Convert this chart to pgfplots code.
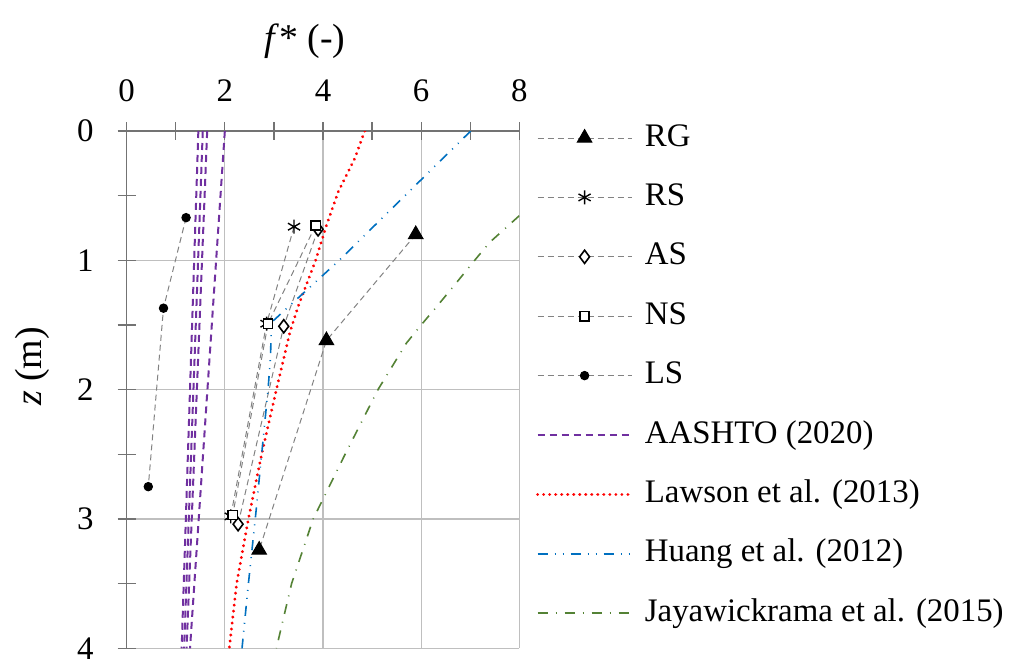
\documentclass[border=0pt]{standalone}
\usepackage{pgfplots}
\pgfplotsset{compat=1.18}
\usepackage{fontspec}
\setmainfont{Liberation Serif}
\definecolor{cpurple}{RGB}{112,48,160}
\definecolor{cblue}{RGB}{0,112,192}
\definecolor{cgreen}{RGB}{84,130,53}
\definecolor{cgray}{RGB}{130,130,130}
\begin{document}
\begin{tikzpicture}
\begin{axis}[
  name=ax,
  at={(0,0)}, anchor=north west,
  scale only axis,
  width=196.3bp, height=258.65bp,
  xmin=0, xmax=8, ymin=0, ymax=4,
  y dir=reverse,
  axis x line*=top, axis y line*=left,
  axis line style={-, draw=black!55, line width=0.6bp},
  xtick={0,2,4,6,8}, minor xtick={1,3,5,7},
  ytick={0,1,2,3,4}, minor ytick={0.5,1.5,2.5,3.5},
  tick align=center,
  major tick length=9bp, minor tick length=9bp,
  every tick/.style={draw=black!55, line width=0.6bp},
  xmajorgrids, ymajorgrids,
  major grid style={draw=black!25, line width=0.6bp},
  tick label style={font=\fontsize{16.5}{18}\selectfont},
  xticklabel style={yshift=6.5bp},
  yticklabel style={xshift=-8.5bp},
  /pgf/number format/assume math mode=true,
  legend cell align=left,
  legend style={
    at={(1,1)}, anchor=north west, xshift=8.35bp, yshift=4bp,
    draw=none, fill=none, inner sep=0pt, outer sep=0pt,
    row sep=14.7bp, column sep=5.85bp,
    font=\fontsize{16.5}{18}\selectfont,
    nodes={inner sep=0pt, text height=11.5bp, text depth=3.5bp},
  },
  legend image code/.code={\draw[mark repeat=2,mark phase=2] plot coordinates {(0bp,0bp) (23.5bp,0bp) (47bp,0bp)};},
  meas/.style={cgray, line width=0.5bp, dash pattern=on 3bp off 2bp},
]
% measured series
\addplot[meas, mark=triangle*, mark size=4.2bp, mark options={solid, fill=black, draw=black}]
  coordinates {(5.89,0.80) (4.07,1.62) (2.70,3.24)};
\addlegendentry{RG}
\addplot[meas, mark=asterisk, mark size=3.5bp, mark options={solid, draw=black, line width=0.7bp}]
  coordinates {(3.41,0.74) (2.85,1.49) (2.12,2.98)};
\addlegendentry{RS}
\addplot[meas, mark=diamond*, mark size=3.3bp, mark options={solid, fill=white, draw=black, line width=0.8bp}]
  coordinates {(3.90,0.76) (3.20,1.51) (2.27,3.04)};
\addlegendentry{AS}
\addplot[meas, mark=square*, mark size=2.3bp, mark options={solid, fill=white, draw=black, line width=0.7bp}]
  coordinates {(3.85,0.73) (2.88,1.49) (2.16,2.97)};
\addlegendentry{NS}
\addplot[meas, mark=*, mark size=2.1bp, mark options={solid, fill=black, draw=black}]
  coordinates {(1.21,0.67) (0.75,1.37) (0.44,2.75)};
\addlegendentry{LS}
% AASHTO (2020)
\addplot[cpurple, line width=1bp, dash pattern=on 3.5bp off 2.5bp, no marks]
  coordinates {(1.46,0) (1.12,4)};
\addlegendentry{AASHTO (2020)}
\addplot[cpurple, line width=1bp, dash pattern=on 3.5bp off 2.5bp, no marks, forget plot]
  coordinates {(1.55,0) (1.17,4)};
\addplot[cpurple, line width=1bp, dash pattern=on 3.5bp off 2.5bp, no marks, forget plot]
  coordinates {(1.64,0) (1.22,4)};
\addplot[cpurple, line width=1bp, dash pattern=on 3.5bp off 2.5bp, no marks, forget plot]
  coordinates {(2.00,0) (1.29,4)};
% Lawson et al. (2013)
\addplot[red, line width=1.6bp, line cap=round, dash pattern=on 0.01bp off 3bp, no marks]
  coordinates {(4.85,0) (4.65,0.21) (4.31,0.47) (4.07,0.73) (3.85,1.0) (3.50,1.35) (3.33,1.55) (3.05,2.0) (2.75,2.5) (2.48,3.0) (2.24,3.5) (2.09,4.0)};
\addlegendentry{Lawson et al. (2013)}
% Huang et al. (2012)
\addplot[cblue, line width=0.8bp, dash pattern=on 5bp off 3.5bp on 0.5bp off 3.5bp on 0.5bp off 3.5bp, no marks]
  coordinates {(7.01,0) (4.33,1.0) (2.95,1.48) (2.93,1.75) (2.88,2.0) (2.75,2.5) (2.62,3.0) (2.48,3.5) (2.35,4.0)};
\addlegendentry{Huang et al. (2012)}
% Jayawickrama et al. (2015)
\addplot[cgreen, line width=0.8bp, dash pattern=on 5bp off 4bp on 0.5bp off 4bp, no marks]
  coordinates {(8.0,0.655) (7.40,0.86) (7.09,1.0) (6.79,1.14) (6.40,1.32) (6.0,1.5) (5.70,1.64) (5.12,2.0) (4.45,2.5) (3.80,3.0) (3.36,3.5) (3.05,4.0)};
\addlegendentry{Jayawickrama et al. (2015)}
\end{axis}
\node[font=\fontsize{19}{22}\selectfont] at (89.15bp,45bp) {\textit{f}* (-)};
\node[rotate=90, font=\fontsize{19}{22}\selectfont] at (-47bp,-117.75bp) {\textit{z} (m)};
\pgfresetboundingbox
\path[use as bounding box] (-63.35bp,65.5bp) rectangle (444.65bp,-264bp);
\end{tikzpicture}
\end{document}
